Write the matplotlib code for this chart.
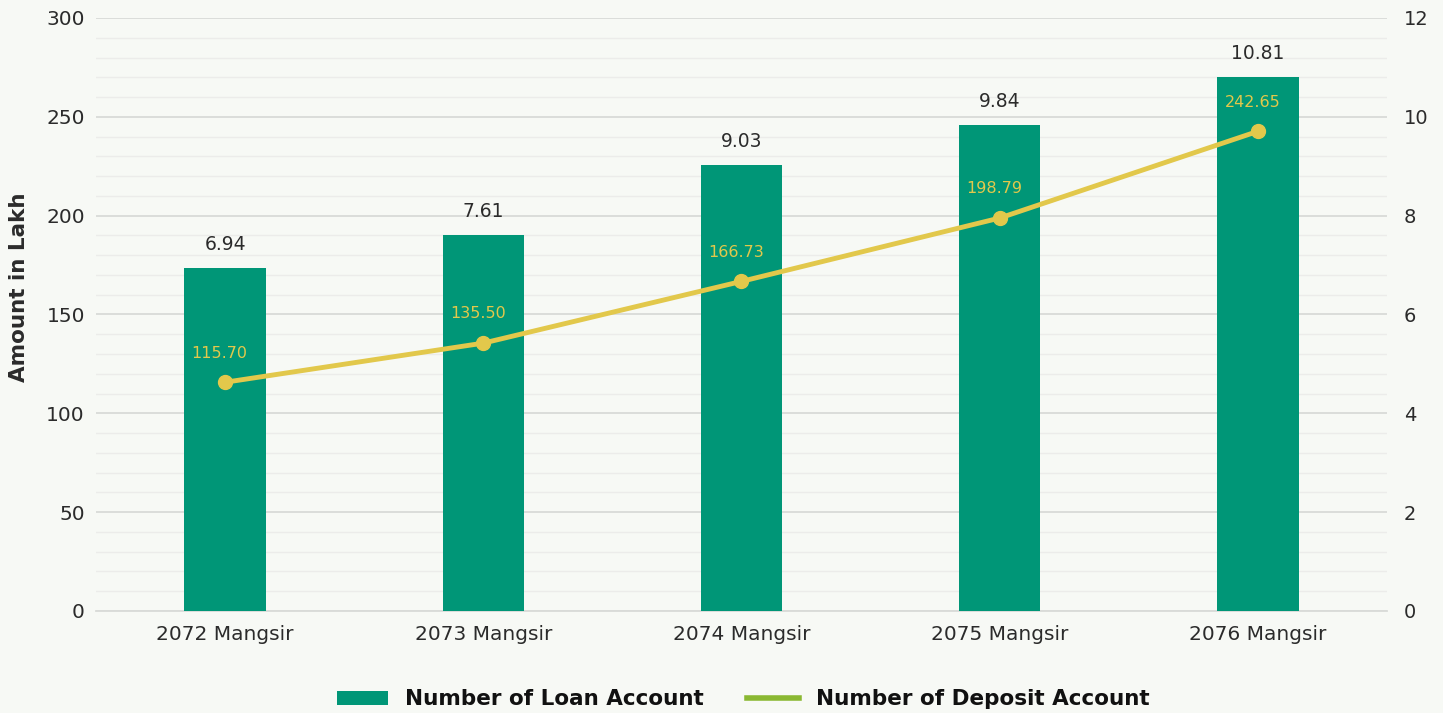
import matplotlib
matplotlib.use("Agg")
import matplotlib.pyplot as plt
from matplotlib.lines import Line2D
from matplotlib.patches import Patch
from matplotlib.ticker import MultipleLocator

categories = ["2072 Mangsir", "2073 Mangsir", "2074 Mangsir", "2075 Mangsir", "2076 Mangsir"]
loan_accounts = [6.94, 7.61, 9.03, 9.84, 10.81]
deposit_accounts = [115.70, 135.50, 166.73, 198.79, 242.65]

BAR_COLOR = "#009677"
LINE_COLOR = "#e2c84b"
LEGEND_LINE_COLOR = "#8ab832"
BG = "#f7f9f5"
TEXT = "#2b2b2b"

plt.rcParams['font.family'] = ['DejaVu Sans']

fig = plt.figure(figsize=(14.43, 7.13), dpi=100, facecolor=BG)
ax = fig.add_axes([0.0665, 0.1431, 0.8947, 0.8317])
ax.set_facecolor(BG)
ax2 = ax.twinx()

x = list(range(len(categories)))

ax.set_ylim(0, 300)
ax.yaxis.set_major_locator(MultipleLocator(50))
ax.yaxis.set_minor_locator(MultipleLocator(10))
ax.grid(which='major', axis='y', color='#d9dbd8', linewidth=1.3)
ax.grid(which='minor', axis='y', color='#ececea', linewidth=1.0)
ax.set_axisbelow(True)
ax.set_xlim(-0.5, len(categories) - 0.5)

ax2.set_ylim(0, 12)
ax2.yaxis.set_major_locator(MultipleLocator(2))

ax2.bar(x, loan_accounts, width=0.315, color=BAR_COLOR, zorder=2)
for xi, v in zip(x, loan_accounts):
    ax2.annotate(f"{v:.2f}", (xi, v), xytext=(0, 17), textcoords='offset points',
                 ha='center', va='center', fontsize=13.5, color=TEXT)

ax3 = ax.twinx()
ax3.set_ylim(0, 300)
ax3.set_xlim(-0.5, len(categories) - 0.5)
ax3.axis('off')
ax3.plot(x, deposit_accounts, color=LINE_COLOR, linewidth=3.5, marker='o', markersize=10, zorder=3)
for xi, v in zip(x, deposit_accounts):
    ax3.annotate(f"{v:.2f}", (xi, v), xytext=(-4, 21), textcoords='offset points',
                 ha='center', va='center', fontsize=11.5, color=LINE_COLOR)

for a in (ax, ax2):
    for s in a.spines.values():
        s.set_visible(False)
ax.spines['bottom'].set_visible(True)
ax.spines['bottom'].set_color('#d9dbd8')
ax.spines['bottom'].set_linewidth(1.3)

ax.set_xticks(x)
ax.set_xticklabels(categories, fontsize=14.5, color=TEXT)
ax.tick_params(axis='x', length=0, pad=10)
ax.tick_params(axis='y', which='both', length=0, labelsize=14.5, labelcolor=TEXT, pad=8)
ax2.tick_params(axis='y', which='both', length=0, labelsize=14, labelcolor=TEXT, pad=12)

ax.set_ylabel("Amount in Lakh", fontsize=15.5, fontweight='bold', color=TEXT)
ax.yaxis.set_label_coords(-0.052, 0.546)

handles = [Patch(facecolor=BAR_COLOR, edgecolor='none'),
           Line2D([0], [0], color=LEGEND_LINE_COLOR, linewidth=4)]
fig.legend(handles, ["Number of Loan Account", "Number of Deposit Account"],
           loc='lower center', bbox_to_anchor=(0.515, -0.022), ncol=2, frameon=False,
           prop={'size': 15.5, 'weight': 'bold'}, handlelength=2.4, handleheight=0.6,
           columnspacing=2.0, handletextpad=0.8, labelcolor='#111111')

fig.savefig("out.png", dpi=100, facecolor=BG)
